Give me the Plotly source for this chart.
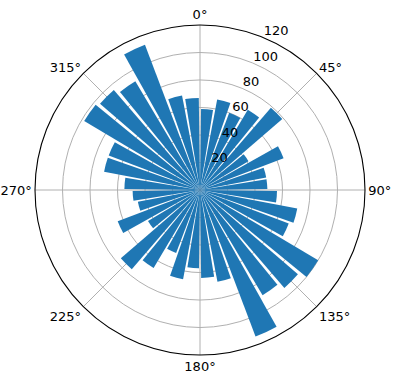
import plotly.graph_objects as go

# bar centres (degrees, clockwise from north) and bar lengths
theta_deg = [5, 15, 25, 35, 45, 55, 65, 75, 85, 95, 105, 115,
             125, 135, 145, 155, 165, 175, 185, 195, 205, 215, 225, 235,
             245, 255, 265, 275, 285, 295, 305, 315, 325, 335, 345, 355]
radii = [59, 67, 60, 68, 79, 41, 65, 49, 49, 56, 72, 69,
         100, 94, 89, 114, 68, 64, 57, 66, 49, 66, 76, 44,
         64, 46, 49, 55, 71, 71, 98, 96, 92, 113, 70, 67]

angle_ticks = [0, 45, 90, 135, 180, 225, 270, 315]
angle_labels = ["0°", "45°", "90°", "135°", "180°", "225°", "270°", "315°"]
radial_ticks = [20, 40, 60, 80, 100, 120]
radial_labels = ["20", "40", "60", "80", "100", "120"]
r_max = 120
label_shift = 6  # radial offset of the tick labels (matplotlib puts them just outside the ring)

fig = go.Figure()
fig.add_trace(go.Barpolar(
    r=radii,
    theta=theta_deg,
    width=[8.5] * len(theta_deg),
    marker=dict(color="#1f77b4", line=dict(width=0)),
    subplot="polar",
))
# helper subplot (same scale, slightly larger) that only carries the radial tick labels
fig.add_trace(go.Scatterpolar(r=[], theta=[], subplot="polar2", showlegend=False))

W, H = 396, 380
cx, cy, R = 200, 190, 165
r2_max = r_max + label_shift + 2
R2 = R * r2_max / r_max


def domain(rad, x0=cx, y0=cy):
    return dict(x=[(x0 - rad) / W, (x0 + rad) / W], y=[(H - y0 - rad) / H, (H - y0 + rad) / H])


fig.update_layout(
    width=W, height=H,
    margin=dict(l=0, r=0, t=0, b=0),
    paper_bgcolor="white",
    showlegend=False,
    font=dict(family="DejaVu Sans", size=13, color="black"),
    polar=dict(
        domain=domain(R),
        bgcolor="white",
        bargap=0,
        angularaxis=dict(
            rotation=90, direction="clockwise",
            tickmode="array", tickvals=angle_ticks, ticktext=angle_labels,
            showline=True, linecolor="black", linewidth=1.1,
            showgrid=True, gridcolor="#b0b0b0", gridwidth=1,
            ticks="", tickfont=dict(size=13),
        ),
        radialaxis=dict(
            range=[0, r_max], angle=67.5,
            tickmode="array", tickvals=radial_ticks,
            showticklabels=False, showline=False, ticks="",
            showgrid=True, gridcolor="#b0b0b0", gridwidth=1,
        ),
    ),
    polar2=dict(
        domain=domain(R2, cx - 9, cy - 4),
        bgcolor="rgba(0,0,0,0)",
        angularaxis=dict(visible=False, rotation=90, direction="clockwise"),
        radialaxis=dict(
            range=[0, r2_max], angle=67.5, side="clockwise", tickangle=67.5,
            tickmode="array", tickvals=[v + label_shift for v in radial_ticks],
            ticktext=radial_labels,
            showline=False, ticks="", showgrid=False,
            tickfont=dict(size=13),
        ),
    ),
)

fig.write_html("out.html")
